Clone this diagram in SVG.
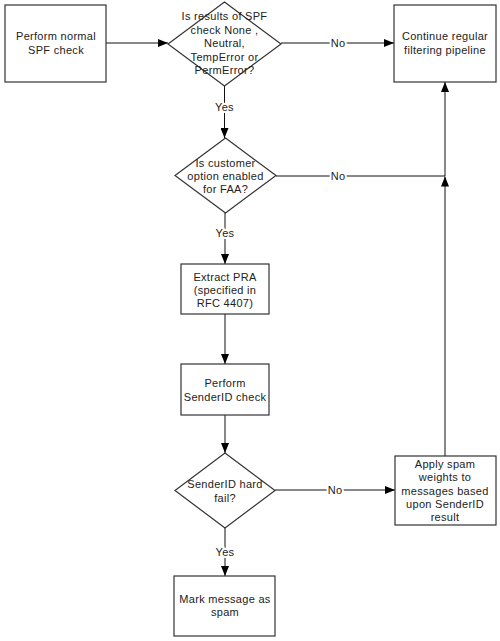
<svg xmlns="http://www.w3.org/2000/svg" width="500" height="641" viewBox="0 0 500 641">
<style>
.box{fill:#fff;stroke:#333;stroke-width:1.2}
.t{font-family:"Liberation Sans",Arial,sans-serif;font-size:11px;fill:#222;text-anchor:middle;letter-spacing:0.3px}
.ln{fill:none;stroke:#111;stroke-width:1}
.lbl{font-family:"Liberation Sans",Arial,sans-serif;font-size:11px;fill:#222;text-anchor:middle;letter-spacing:0.3px;paint-order:stroke;stroke:#fff;stroke-width:4px;stroke-linejoin:round}
</style>
<defs>
<marker id="ah" markerUnits="userSpaceOnUse" markerWidth="10" markerHeight="8" refX="10" refY="4" orient="auto">
<path d="M0,0 L10,4 L0,8 z" fill="#000"/>
</marker>
</defs>
<rect width="500" height="641" fill="#fff"/>
<g id="connectors">
<line class="ln" x1="106" y1="43" x2="168" y2="43" marker-end="url(#ah)"/>
<line class="ln" x1="281" y1="43" x2="394" y2="43" marker-end="url(#ah)"/>
<line class="ln" x1="224.5" y1="86" x2="224.5" y2="138" marker-end="url(#ah)"/>
<line class="ln" x1="276" y1="176" x2="445" y2="176"/>
<line class="ln" x1="225" y1="213" x2="225" y2="264" marker-end="url(#ah)"/>
<line class="ln" x1="225" y1="314" x2="225" y2="364" marker-end="url(#ah)"/>
<line class="ln" x1="225" y1="415" x2="225" y2="453" marker-end="url(#ah)"/>
<line class="ln" x1="275" y1="490" x2="395" y2="490" marker-end="url(#ah)"/>
<line class="ln" x1="225" y1="528" x2="225" y2="576" marker-end="url(#ah)"/>
<line class="ln" x1="445" y1="456" x2="445" y2="176.5" marker-end="url(#ah)"/>
<line class="ln" x1="445" y1="176" x2="445" y2="82" marker-end="url(#ah)"/>
<text class="lbl" x="338" y="47">No</text>
<text class="lbl" x="224.5" y="111">Yes</text>
<text class="lbl" x="338" y="180">No</text>
<text class="lbl" x="225" y="237">Yes</text>
<text class="lbl" x="335" y="494">No</text>
<text class="lbl" x="225" y="556">Yes</text>
</g>
<g id="n1">
<rect class="box" x="5" y="5" width="101" height="77"/>
<text class="t" x="56" y="40">Perform normal</text>
<text class="t" x="56" y="54">SPF check</text>
</g>
<g id="d1">
<polygon class="box" points="224.5,2 281,44 224.5,86 168,44"/>
<text class="t" x="224.5" y="20">Is results of SPF</text>
<text class="t" x="224.5" y="34">check None ,</text>
<text class="t" x="224.5" y="47">Neutral,</text>
<text class="t" x="224.5" y="61">TempError or</text>
<text class="t" x="224.5" y="74">PermError?</text>
</g>
<g id="n2">
<rect class="box" x="394" y="5" width="102" height="77"/>
<text class="t" x="445" y="40">Continue regular</text>
<text class="t" x="445" y="54">filtering pipeline</text>
</g>
<g id="d2">
<polygon class="box" points="225.5,138 276,175.5 225.5,213 175,175.5"/>
<text class="t" x="225.5" y="167">Is customer</text>
<text class="t" x="225.5" y="180">option enabled</text>
<text class="t" x="225.5" y="193">for FAA?</text>
</g>
<g id="n3">
<rect class="box" x="181" y="264" width="88" height="50"/>
<text class="t" x="225" y="281">Extract PRA</text>
<text class="t" x="225" y="294">(specified in</text>
<text class="t" x="225" y="307">RFC 4407)</text>
</g>
<g id="n4">
<rect class="box" x="181" y="364" width="88" height="51"/>
<text class="t" x="225" y="387">Perform</text>
<text class="t" x="225" y="401">SenderID check</text>
</g>
<g id="d3">
<polygon class="box" points="225,453 275,490.5 225,528 175,490.5"/>
<text class="t" x="225" y="488">SenderID hard</text>
<text class="t" x="225" y="502">fail?</text>
</g>
<g id="n5">
<rect class="box" x="395" y="456" width="101" height="69"/>
<text class="t" x="445" y="468">Apply spam</text>
<text class="t" x="445" y="481">weights to</text>
<text class="t" x="445" y="495">messages based</text>
<text class="t" x="445" y="508">upon SenderID</text>
<text class="t" x="445" y="521">result</text>
</g>
<g id="n6">
<rect class="box" x="174" y="576" width="101" height="60"/>
<text class="t" x="225" y="603">Mark message as</text>
<text class="t" x="225" y="616">spam</text>
</g>
</svg>
